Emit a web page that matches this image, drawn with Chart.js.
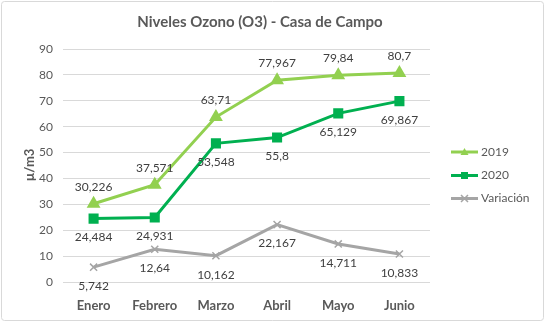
<!DOCTYPE html>
<html>
<head>
<meta charset="utf-8">
<script src="https://cdn.jsdelivr.net/npm/chart.js@4/dist/chart.umd.min.js"></script>
<style>
  html, body { margin: 0; padding: 0; background: #fff; }
  #wrap { width: 546px; height: 323px; position: relative; }
</style>
</head>
<body>
<div id="wrap"><canvas id="ozono" width="546" height="323"></canvas></div>
<script>
const meses = ['Enero', 'Febrero', 'Marzo', 'Abril', 'Mayo', 'Junio'];
const valores2019 = [30.226, 37.571, 63.71, 77.967, 79.84, 80.7];
const valores2020 = [24.484, 24.931, 53.548, 55.8, 65.129, 69.867];
const variacion = [5.742, 12.64, 10.162, 22.167, 14.711, 10.833];

const FONT = 'Lato, "Open Sans", sans-serif';
const GRIS = '#595959';

// etiquetas con coma decimal, encima o debajo del punto
const etiquetas = {
  id: 'etiquetas',
  afterDatasetsDraw(chart) {
    const ctx = chart.ctx;
    ctx.save();
    ctx.font = '12px ' + FONT;
    ctx.fillStyle = '#404040';
    ctx.textAlign = 'center';
    ctx.textBaseline = 'middle';
    chart.data.datasets.forEach((ds, i) => {
      const meta = chart.getDatasetMeta(i);
      meta.data.forEach((pt, j) => {
        const txt = String(ds.data[j]).replace('.', ',');
        const dy = ds.etiqueta === 'arriba' ? -17 : 19;
        ctx.fillText(txt, pt.x, pt.y + dy);
      });
    });
    ctx.restore();
  }
};

// título, título del eje, leyenda y marco
const adornos = {
  id: 'adornos',
  beforeDraw(chart) {
    const ctx = chart.ctx;
    ctx.save();
    ctx.fillStyle = '#fff';
    ctx.fillRect(0, 0, chart.width, chart.height);
    ctx.strokeStyle = '#d9d9d9';
    ctx.lineWidth = 1;
    ctx.beginPath();
    ctx.roundRect(1.5, 1.5, 542, 319, 3);
    ctx.stroke();
    ctx.restore();
  },
  afterDraw(chart) {
    const ctx = chart.ctx;
    ctx.save();
    ctx.fillStyle = GRIS;
    ctx.textAlign = 'center';
    ctx.textBaseline = 'middle';
    ctx.font = 'bold 15px ' + FONT;
    ctx.fillText('Niveles Ozono (O3) - Casa de Campo', 260, 22);

    ctx.save();
    ctx.translate(30, 165);
    ctx.rotate(-Math.PI / 2);
    ctx.font = 'bold 13px ' + FONT;
    ctx.fillText('µ/m3', 0, 0);
    ctx.restore();

    const filas = [152, 175.5, 198.5];
    chart.data.datasets.forEach((ds, i) => {
      const y = filas[i];
      ctx.strokeStyle = ds.borderColor;
      ctx.lineWidth = 3;
      ctx.beginPath();
      ctx.moveTo(451, y);
      ctx.lineTo(478, y);
      ctx.stroke();
      const x = 464.5;
      ctx.fillStyle = ds.borderColor;
      ctx.strokeStyle = ds.borderColor;
      ctx.lineWidth = 1.5;
      if (ds.pointStyle === 'triangle') {
        ctx.beginPath();
        ctx.moveTo(x, y - 4);
        ctx.lineTo(x + 4, y + 3);
        ctx.lineTo(x - 4, y + 3);
        ctx.closePath();
        ctx.fill();
      } else if (ds.pointStyle === 'rect') {
        ctx.fillRect(x - 3.5, y - 3.5, 7, 7);
      } else {
        ctx.beginPath();
        ctx.moveTo(x - 3.5, y - 3.5); ctx.lineTo(x + 3.5, y + 3.5);
        ctx.moveTo(x + 3.5, y - 3.5); ctx.lineTo(x - 3.5, y + 3.5);
        ctx.stroke();
      }
      ctx.fillStyle = GRIS;
      ctx.textAlign = 'left';
      ctx.font = '12px ' + FONT;
      ctx.fillText(ds.label, 481, y);
    });
    ctx.restore();
  }
};

new Chart(document.getElementById('ozono'), {
  type: 'line',
  data: {
    labels: meses,
    datasets: [
      {
        label: '2019', data: valores2019, etiqueta: 'arriba',
        borderColor: '#92d050', backgroundColor: '#92d050',
        borderWidth: 3, pointStyle: 'triangle', pointRadius: 5
      },
      {
        label: '2020', data: valores2020, etiqueta: 'abajo',
        borderColor: '#00b050', backgroundColor: '#00b050',
        borderWidth: 3, pointStyle: 'rect', pointRadius: 5
      },
      {
        label: 'Variación', data: variacion, etiqueta: 'abajo',
        borderColor: '#a5a5a5', backgroundColor: '#a5a5a5',
        borderWidth: 3, pointStyle: 'crossRot', pointRadius: 5, pointBorderWidth: 1.5
      }
    ]
  },
  options: {
    responsive: false,
    devicePixelRatio: 1,
    animation: false,
    layout: { padding: { left: 0, right: 116, top: 49, bottom: 0 } },
    plugins: {
      legend: { display: false },
      title: { display: false },
      tooltip: { enabled: false }
    },
    scales: {
      x: {
        offset: true,
        grid: { display: false },
        border: { display: false },
        ticks: { color: GRIS, padding: 8, font: { family: FONT, size: 13, weight: 'bold' } },
        afterFit: (s) => { s.height = 323 - 282 - 0; }
      },
      y: {
        min: 0, max: 90,
        ticks: { stepSize: 10, color: GRIS, padding: 10, font: { family: FONT, size: 12 } },
        grid: { color: '#d9d9d9', drawTicks: false },
        border: { display: false },
        afterFit: (s) => { s.width = 63; }
      }
    }
  },
  plugins: [adornos, etiquetas]
});
</script>
</body>
</html>
